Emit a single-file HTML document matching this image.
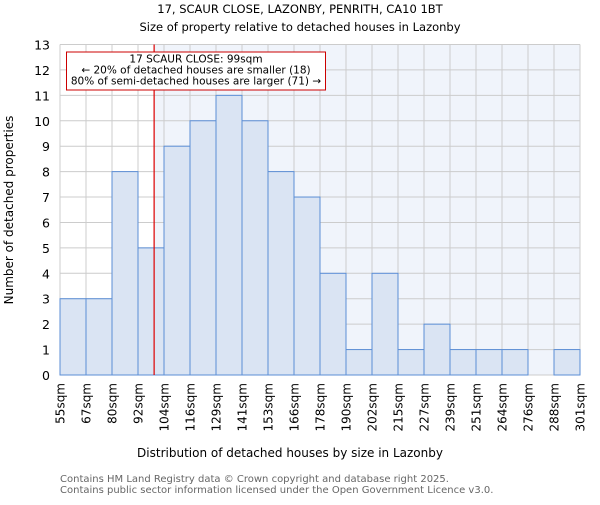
<!DOCTYPE html>
<html><head><meta charset="utf-8"><style>
body{margin:0;background:#fff;}
svg{font-family:"DejaVu Sans","Liberation Sans",sans-serif;}
</style></head><body>
<svg id="chart" width="600" height="500">
<text x="300" y="13" text-anchor="middle" font-size="11.5">17, SCAUR CLOSE, LAZONBY, PENRITH, CA10 1BT</text>
<text x="300" y="31" text-anchor="middle" font-size="11.5">Size of property relative to detached houses in Lazonby</text>
<g id="plot"></g>
<text x="290" y="457" text-anchor="middle" font-size="12">Distribution of detached houses by size in Lazonby</text>
<text transform="translate(13,210) rotate(-90)" text-anchor="middle" font-size="12">Number of detached properties</text>
<text x="60" y="482" font-size="10" fill="#666">Contains HM Land Registry data © Crown copyright and database right 2025.</text>
<text x="60" y="493" font-size="10" fill="#666">Contains public sector information licensed under the Open Government Licence v3.0.</text>
</svg>
<script>
const categories=["55sqm","67sqm","80sqm","92sqm","104sqm","116sqm","129sqm","141sqm","153sqm","166sqm","178sqm","190sqm","202sqm","215sqm","227sqm","239sqm","251sqm","264sqm","276sqm","288sqm","301sqm"];
const counts=[3,3,8,5,9,10,11,10,8,7,4,1,4,1,2,1,1,1,0,1];
const yTicks=[0,1,2,3,4,5,6,7,8,9,10,11,12,13];
const propertyBinPos=3.62;
const NS="http://www.w3.org/2000/svg";
const L=60,R=580,T=44.5,B=375,yMax=13;
const bw=(R-L)/counts.length;
const x=i=>L+i*bw;
const y=v=>B-(B-T)*v/yMax;
const g=document.getElementById('plot');
function mk(t,a,p){const e=document.createElementNS(NS,t);for(const k in a)e.setAttribute(k,a[k]);(p||g).appendChild(e);return e;}
const redX=x(propertyBinPos);
const bg=mk('rect',{x:redX,y:T,width:R-redX,height:B-T,fill:'#f0f4fb'});


yTicks.forEach(v=>{
 const l=mk('line',{x1:L,x2:R,y1:y(v),y2:y(v),stroke:'#ccc','stroke-width':1});
 
 
 const t=mk('text',{x:L-10,y:y(v)+5,'text-anchor':'end','font-size':12.5});
 t.textContent=v;
 
 
});
categories.forEach((c,i)=>{
 const l=mk('line',{x1:x(i),x2:x(i),y1:T,y2:B,stroke:'#ccc','stroke-width':1});
 
 
 const t=mk('text',{transform:`translate(${x(i)+4.5},383) rotate(-90)`,'text-anchor':'end','font-size':12});
 t.textContent=c;
 
 
});
counts.forEach((v,i)=>{
 if(v<=0)return;
 const r=mk('rect',{x:x(i),y:y(v),width:bw,height:B-y(v),fill:'#dae4f3',stroke:'#5b8ed6','stroke-width':1});
 
 
});
const rl=mk('line',{x1:redX,x2:redX,y1:T,y2:B,stroke:'#d00','stroke-width':1.2});


const box=mk('rect',{x:66.5,y:52,width:259,height:38,fill:'#fff',stroke:'#c00','stroke-width':1});


["17 SCAUR CLOSE: 99sqm","← 20% of detached houses are smaller (18)","80% of semi-detached houses are larger (71) →"].forEach((s,k)=>{
 const t=mk('text',{x:196,y:62.5+k*11,'text-anchor':'middle','font-size':10.5});
 t.textContent=s;
 
 
});
</script>
</body></html>
